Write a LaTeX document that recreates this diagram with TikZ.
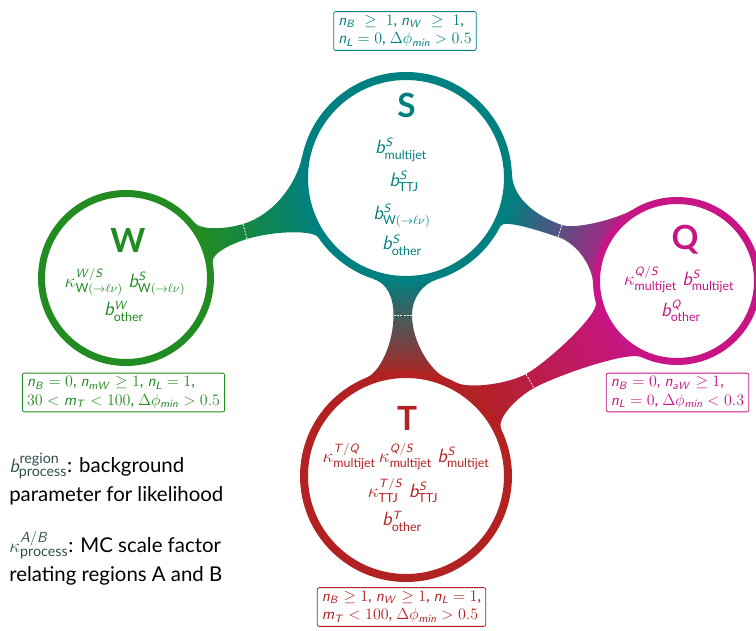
\documentclass[tikz,border=0pt]{standalone}
\usepackage{fontspec}
\setmainfont{Lato}
\usepackage{amsmath}
\usetikzlibrary{positioning, calc, backgrounds}

% sans math letters and digits, greek stays as is
\DeclareSymbolFont{sfslanted}{OT1}{cmss}{m}{sl}
\DeclareSymbolFont{sfupright}{OT1}{cmss}{m}{n}
\DeclareMathSymbol{a}{\mathalpha}{sfslanted}{`a}
\DeclareMathSymbol{b}{\mathalpha}{sfslanted}{`b}
\DeclareMathSymbol{i}{\mathalpha}{sfslanted}{`i}
\DeclareMathSymbol{m}{\mathalpha}{sfslanted}{`m}
\DeclareMathSymbol{n}{\mathalpha}{sfslanted}{`n}
\DeclareMathSymbol{A}{\mathalpha}{sfslanted}{`A}
\DeclareMathSymbol{B}{\mathalpha}{sfslanted}{`B}
\DeclareMathSymbol{L}{\mathalpha}{sfslanted}{`L}
\DeclareMathSymbol{Q}{\mathalpha}{sfslanted}{`Q}
\DeclareMathSymbol{S}{\mathalpha}{sfslanted}{`S}
\DeclareMathSymbol{T}{\mathalpha}{sfslanted}{`T}
\DeclareMathSymbol{W}{\mathalpha}{sfslanted}{`W}
\DeclareMathSymbol{0}{\mathalpha}{sfupright}{`0}
\DeclareMathSymbol{1}{\mathalpha}{sfupright}{`1}
\DeclareMathSymbol{3}{\mathalpha}{sfupright}{`3}
\DeclareMathSymbol{5}{\mathalpha}{sfupright}{`5}
\DeclareMathSymbol{.}{\mathord}{sfupright}{`.}
\DeclareMathSymbol{\Delta}{\mathalpha}{sfupright}{"01}

\definecolor{sigteal}{RGB}{0,128,128}
\definecolor{wgreen}{RGB}{34,139,34}
\definecolor{qmagenta}{RGB}{199,21,133}
\definecolor{tred}{RGB}{178,34,34}
\definecolor{keygray}{RGB}{47,79,79}

\tikzset{
  zone/.style={circle, draw=#1, fill=white, inner sep=0pt},
  bigzone/.style={zone=#1, line width=6pt, minimum size=153pt},
  smallzone/.style={zone=#1, line width=5.25pt},
  tag/.style={text=#1, font=\fontsize{25}{25}\selectfont\bfseries, inner sep=0pt},
  params/.style={text=#1, font=\fontsize{13.3}{16}\selectfont, inner sep=0pt},
  cutbox/.style={draw=#1, text=#1, fill=white, rounded corners=1.5pt, line width=0.6pt,
    align=left, inner xsep=3.5pt, inner ysep=2.5pt, font=\fontsize{11.8}{14}\selectfont},
  keytext/.style={align=left, inner sep=0pt, font=\fontsize{15.3}{21.5}\selectfont},
  seam/.style={white, line width=0.6pt, dash pattern=on 1.5pt off 1pt},
}

\begin{document}
\begin{tikzpicture}[x=0.75pt, y=-0.75pt]
  \useasboundingbox (0,0) rectangle (756,631);

  % regions
  \node[bigzone=sigteal] (S) at (406,178) {};
  \node[bigzone=tred] (T) at (406,476) {};
  \node[smallzone=wgreen, minimum size=126.75pt] (W) at (126,278) {};
  \node[smallzone=qmagenta, minimum size=120.75pt] (Q) at (677,281) {};

  % bridges between regions
  \coordinate (ws-up) at (243,224);
  \coordinate (ws-lo) at (247,239);
  \coordinate (sq-up) at (562,225);
  \coordinate (sq-lo) at (558,237);
  \coordinate (st-l) at (393.5,315);
  \coordinate (st-r) at (412,315);
  \coordinate (qt-up) at (526,374);
  \coordinate (qt-lo) at (534,388);

  \begin{scope}[on background layer]
    \shade[top color=sigteal, bottom color=wgreen, shading angle=-72]
      (W.39) .. controls (200.7,230.4) and (225.8,229.3) .. (ws-up)
      .. controls (273,215) and (296,185.3) .. (S.168)
      -- (S.214)
      .. controls (313.6,230.4) and (275.7,230.3) .. (ws-lo)
      .. controls (232.7,243.4) and (211,252.9) .. (W.10)
      -- cycle;
    \shade[top color=sigteal, bottom color=qmagenta, shading angle=72]
      (S.2) .. controls (512.8,199) and (538,217) .. (sq-up)
      .. controls (576,230) and (619.8,217.8) .. (Q.122)
      -- (Q.182)
      .. controls (592.5,266) and (577,243.3) .. (sq-lo)
      .. controls (539,230.7) and (504,219) .. (S.333)
      -- cycle;
    \shade[top color=sigteal, bottom color=tred]
      (S.252) .. controls (387.5,283.4) and (393.5,298) .. (st-l)
      .. controls (393.5,343) and (380.2,372.1) .. (T.112)
      -- (T.68)
      .. controls (431.8,372.1) and (412,343) .. (st-r)
      .. controls (412,298) and (422.7,283.8) .. (S.287)
      -- cycle;
    \shade[top color=qmagenta, bottom color=tred, shading angle=-61]
      (Q.195) .. controls (599,314.3) and (547.9,361.9) .. (qt-up)
      .. controls (508.5,383.7) and (469,389.4) .. (T.62)
      -- (T.26)
      .. controls (496,418.7) and (516.5,397.7) .. (qt-lo)
      .. controls (555.9,375.9) and (627.9,350.7) .. (Q.245)
      -- cycle;
  \end{scope}

  \draw[seam] (ws-up) -- (ws-lo);
  \draw[seam] (sq-up) -- (sq-lo);
  \draw[seam] (st-l) -- (st-r);
  \draw[seam] (qt-up) -- (qt-lo);

  % S region
  \node[tag=sigteal] (S-name) at (406.5,105) {S};
  \node[params=sigteal] (S-multijet) at (401,150) {$b^{S}_{\text{multijet}}$};
  \node[params=sigteal] (S-ttj) at (404,181) {$b^{S}_{\text{TTJ}}$};
  \node[params=sigteal] (S-wlnu) at (402,216) {$b^{S}_{\text{W}(\to\ell\nu)}$};
  \node[params=sigteal] (S-other) at (402,245) {$b^{S}_{\text{other}}$};

  % W region
  \node[tag=wgreen] (W-name) at (128,240) {W};
  \node[params=wgreen] (W-wlnu) at (125,282) {$\kappa^{W/S}_{\text{W}(\to\ell\nu)}\; b^{S}_{\text{W}(\to\ell\nu)}$};
  \node[params=wgreen] (W-other) at (124,311) {$b^{W}_{\text{other}}$};

  % Q region
  \node[tag=qmagenta] (Q-name) at (685,240) {Q};
  \node[params=qmagenta] (Q-multijet) at (679,280) {$\kappa^{Q/S}_{\text{multijet}}\; b^{S}_{\text{multijet}}$};
  \node[params=qmagenta] (Q-other) at (681,311) {$b^{Q}_{\text{other}}$};

  % T region
  \node[tag=tred] (T-name) at (407,418) {T};
  \node[params=tred] (T-multijet) at (406,457) {$\kappa^{T/Q}_{\text{multijet}}\,\kappa^{Q/S}_{\text{multijet}}\; b^{S}_{\text{multijet}}$};
  \node[params=tred] (T-ttj) at (403,491) {$\kappa^{T/S}_{\text{TTJ}}\; b^{S}_{\text{TTJ}}$};
  \node[params=tred] (T-other) at (402,521) {$b^{T}_{\text{other}}$};

  % selections
  \node[cutbox=sigteal] (S-cut) at (405,31)
    {$n_B \;\geq\; 1$, $n_W \;\geq\; 1$,\\ $n_L = 0$, $\Delta\phi_{min} > 0.5$};
  \node[cutbox=wgreen] (W-cut) at (123.5,392.5)
    {$n_B = 0$, $n_{mW} \geq 1$, $n_L = 1$,\\ $30 < m_T < 100$, $\Delta\phi_{min} > 0.5$};
  \node[cutbox=qmagenta] (Q-cut) at (677.5,392.5)
    {$n_B = 0$, $n_{aW} \geq 1$,\\ $n_L = 0$, $\Delta\phi_{min} < 0.3$};
  \node[cutbox=tred] (T-cut) at (401.5,607)
    {$n_B \geq 1$, $n_W \geq 1$, $n_L = 1$,\\ $m_T < 100$, $\Delta\phi_{min} > 0.5$};

  % key
  \node[keytext, anchor=north west] (key-b) at (9,453)
    {\textcolor{keygray}{$b^{\text{region}}_{\text{process}}$}: background\\parameter for likelihood};
  \node[keytext, anchor=north west] (key-k) at (9,531)
    {\textcolor{keygray}{$\kappa^{A/B}_{\text{process}}$}: MC scale factor\\relating regions A and B};
\end{tikzpicture}
\end{document}
